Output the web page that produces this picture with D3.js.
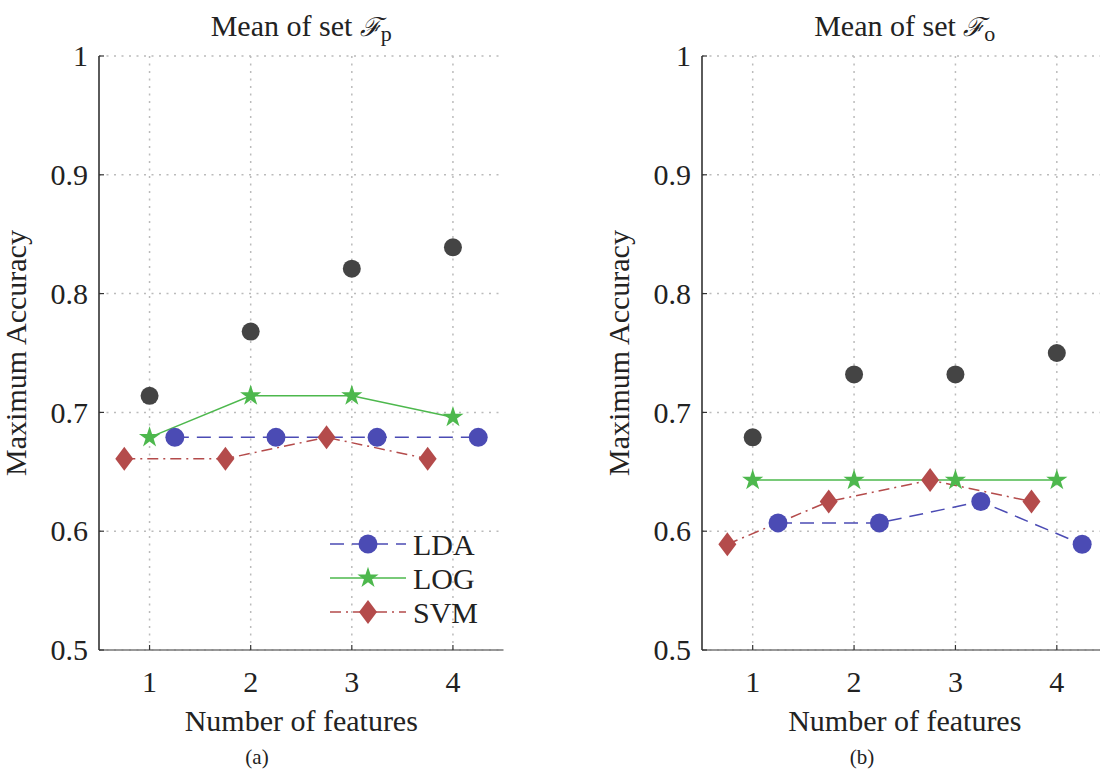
<!DOCTYPE html>
<html>
<head>
<meta charset="utf-8">
<script src="https://cdn.jsdelivr.net/npm/d3@7"></script>
<style>
  body { margin: 0; background: #fff; }
  text { font-family: "Liberation Serif", "Times New Roman", serif; fill: #222; }
</style>
</head>
<body>
<div id="chart"></div>
<script>
// values (accuracy, 56 samples)
var features = [1, 2, 3, 4];
var yTicks = [0.5, 0.6, 0.7, 0.8, 0.9, 1];
var yTickLabels = ["0.5", "0.6", "0.7", "0.8", "0.9", "1"];

var bestP = [0.714, 0.768, 0.821, 0.839];
var ldaP = [0.679, 0.679, 0.679, 0.679];
var logP = [0.679, 0.714, 0.714, 0.696];
var svmP = [0.661, 0.661, 0.679, 0.661];

var bestO = [0.679, 0.732, 0.732, 0.750];
var ldaO = [0.607, 0.607, 0.625, 0.589];
var logO = [0.643, 0.643, 0.643, 0.643];
var svmO = [0.589, 0.625, 0.643, 0.625];

var seriesNames = ["LDA", "LOG", "SVM"];
var seriesShift = [0.25, 0, -0.25];

var width = 1100, height = 771;
var svg = d3.select("#chart").append("svg")
  .attr("width", width)
  .attr("height", height);

var colors = {LDA: "#4b4bb4", LOG: "#4db84d", SVM: "#b44b4b", best: "#444"};
var dashes = {LDA: "14,8", LOG: null, SVM: "11,5,2,5"};

function diamondPath(hw, hh) {
  return "M0," + (-hh) + "L" + hw + ",0L0," + hh + "L" + (-hw) + ",0Z";
}
var starPath = d3.symbol(d3.symbolStar, 140)();

function drawMarker(g, name, x, y) {
  if (name == "LDA") {
    g.append("circle").attr("cx", x).attr("cy", y).attr("r", 9.5).attr("fill", colors.LDA);
  } else if (name == "LOG") {
    g.append("path").attr("d", starPath).attr("transform", "translate(" + x + "," + y + ")").attr("fill", colors.LOG);
  } else {
    g.append("path").attr("d", diamondPath(9, 12)).attr("transform", "translate(" + x + "," + y + ")").attr("fill", colors.SVM);
  }
}

function panel(left, right, subscript, best, lda, log, svm, caption, captionX, showLegend) {
  var x = d3.scaleLinear().domain([0.5, 4.5]).range([left, right]);
  var y = d3.scaleLinear().domain([0.5, 1]).range([650, 56]);
  var g = svg.append("g");

  // grid
  g.selectAll(".hgrid").data(yTicks).enter().append("line")
    .attr("x1", left).attr("x2", right)
    .attr("y1", function(d) { return y(d); }).attr("y2", function(d) { return y(d); })
    .attr("stroke", "#bbb").attr("stroke-width", 1.5).attr("stroke-dasharray", "2,5.5");
  g.selectAll(".vgrid").data(features).enter().append("line")
    .attr("x1", function(d) { return x(d); }).attr("x2", function(d) { return x(d); })
    .attr("y1", y(1)).attr("y2", y(0.5))
    .attr("stroke", "#bbb").attr("stroke-width", 1.5).attr("stroke-dasharray", "2,5.5");

  // axes
  g.append("line").attr("x1", left).attr("x2", right).attr("y1", y(0.5)).attr("y2", y(0.5))
    .attr("stroke", "#777").attr("stroke-width", 1.6);
  g.append("line").attr("x1", left).attr("x2", left).attr("y1", y(1)).attr("y2", y(0.5))
    .attr("stroke", "#333").attr("stroke-width", 1.6);

  g.selectAll(".ytick").data(yTicks).enter().append("line")
    .attr("x1", left).attr("x2", left + 5)
    .attr("y1", function(d) { return y(d); }).attr("y2", function(d) { return y(d); })
    .attr("stroke", "#333").attr("stroke-width", 1.2);
  g.selectAll(".xtick").data(features).enter().append("line")
    .attr("x1", function(d) { return x(d); }).attr("x2", function(d) { return x(d); })
    .attr("y1", y(0.5)).attr("y2", y(0.5) - 5)
    .attr("stroke", "#333").attr("stroke-width", 1.2);

  g.selectAll(".ylab").data(yTicks).enter().append("text")
    .attr("x", left - 11).attr("y", function(d) { return y(d); })
    .attr("dy", "0.34em").attr("text-anchor", "end")
    .style("font-size", "30px")
    .text(function(d, i) { return yTickLabels[i]; });
  g.selectAll(".xlab").data(features).enter().append("text")
    .attr("x", function(d) { return x(d); }).attr("y", 692)
    .attr("text-anchor", "middle").style("font-size", "30px")
    .text(function(d) { return d; });

  var cx = (left + right) / 2;
  g.append("text").attr("x", cx).attr("y", 731).attr("text-anchor", "middle")
    .style("font-size", "30px").text("Number of features");
  g.append("text").attr("transform", "translate(" + (left - 73) + "," + y(0.75) + ") rotate(-90)")
    .attr("text-anchor", "middle").style("font-size", "30px").text("Maximum Accuracy");
  g.append("text").attr("x", captionX).attr("y", 764).attr("text-anchor", "middle")
    .style("font-size", "21px").text(caption);

  var t = g.append("text").attr("x", cx).attr("y", 36).attr("text-anchor", "middle").style("font-size", "30px");
  t.append("tspan").text("Mean of set ");
  t.append("tspan").style("font-style", "italic").style("font-family", "DejaVu Serif").style("font-size", "26px").text("\u2131");
  t.append("tspan").attr("dy", 5).style("font-size", "22px").text(subscript);

  // series
  var data = [lda, log, svm];
  var lineGen = function(vals, shift) {
    return d3.line().x(function(d, i) { return x(features[i] + shift); }).y(function(d) { return y(d); })(vals);
  };
  seriesNames.forEach(function(name, k) {
    g.append("path").attr("d", lineGen(data[k], seriesShift[k]))
      .attr("fill", "none").attr("stroke", colors[name]).attr("stroke-width", 1.5)
      .attr("stroke-dasharray", dashes[name]);
  });
  seriesNames.forEach(function(name, k) {
    data[k].forEach(function(v, i) { drawMarker(g, name, x(features[i] + seriesShift[k]), y(v)); });
  });
  g.selectAll(".best").data(best).enter().append("circle")
    .attr("cx", function(d, i) { return x(features[i]); }).attr("cy", function(d) { return y(d); })
    .attr("r", 9).attr("fill", colors.best);

  if (showLegend) {
    var lg = g.append("g");
    seriesNames.forEach(function(name, k) {
      var ly = 544 + k * 34;
      lg.append("line").attr("x1", 330).attr("x2", 406).attr("y1", ly).attr("y2", ly)
        .attr("stroke", colors[name]).attr("stroke-width", 1.5).attr("stroke-dasharray", dashes[name]);
      drawMarker(lg, name, 368, ly);
      lg.append("text").attr("x", 413).attr("y", ly).attr("dy", "0.35em")
        .style("font-size", "30px").text(name);
    });
  }
}

panel(99, 503.5, "p", bestP, ldaP, logP, svmP, "(a)", 257, true);
panel(702, 1107.5, "o", bestO, ldaO, logO, svmO, "(b)", 862, false);
</script>
</body>
</html>
